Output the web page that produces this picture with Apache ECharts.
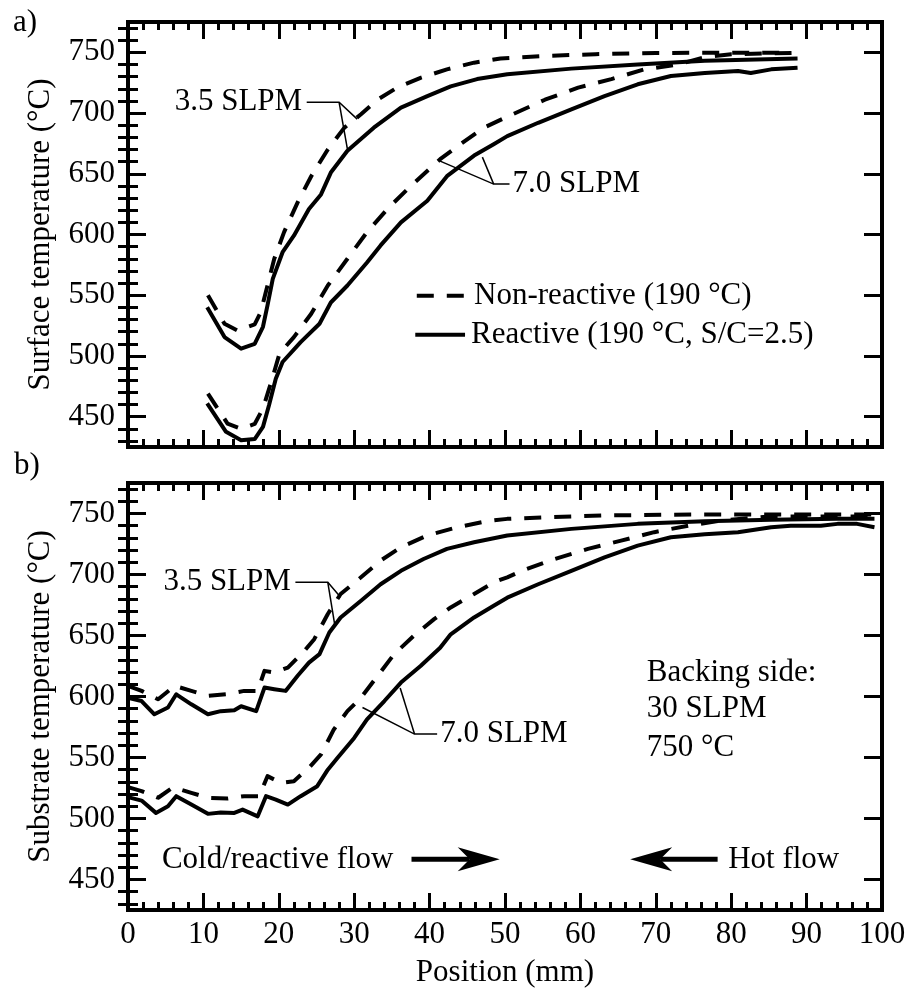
<!DOCTYPE html>
<html>
<head>
<meta charset="utf-8">
<script src="https://cdn.jsdelivr.net/npm/echarts@6/dist/echarts.min.js"></script>
<style>
  html, body { margin: 0; padding: 0; background: #fff; }
  #chart { width: 914px; height: 994px; }
</style>
</head>
<body>
<div id="chart"></div>
<script>
// ---- axis ranges and tick values ----
const positionRange = [0, 100];
const positionInterval = 10;
const tempRange = [425, 775];
const tempMajorTicks = [450, 500, 550, 600, 650, 700, 750];
const tempMinorTicks = [430, 440, 460, 470, 480, 490, 510, 520, 530, 540, 560, 570, 580, 590,
                        610, 620, 630, 640, 660, 670, 680, 690, 710, 720, 730, 740, 760, 770];

// ---- (a) surface temperature, [position mm, °C] ----
const surface35NonReactive = [[10.6,550],[12.8,526.5],[14.5,521],[16.8,526],[17.6,536],[18.5,558],[19.4,580],
  [20.7,602],[22.5,626.5],[24.3,648],[26.5,670],[28.7,688],[30.9,699],[33.1,711],[35.7,721],[38.8,729],
  [42.3,736],[45.9,741.5],[49.4,745],[55,747],[62,748.5],[70,749.5],[80,749.7],[88,749.7]];
const surface35Reactive = [[10.5,540],[12.8,515.5],[15.0,506],[16.8,510],[17.9,524],[18.5,541.6],[19.2,563.5],
  [20.5,585.4],[22.0,599],[24.0,621],[25.6,633],[26.9,651],[29.1,669],[32.6,688],[36.2,704.5],[39.7,714],
  [42.8,722],[46.3,728],[50.3,732],[58.8,736.6],[67.6,740],[76.5,743],[88.8,745]];
const surface70NonReactive = [[10.6,469],[13.2,444.3],[15,440],[16.8,444],[17.9,456.7],[19.0,478.6],[20.1,502],
  [22,515.5],[24.3,534.7],[26.5,558],[29.1,580],[31.7,602],[34.4,621],[37.5,640],[41.4,662],[44.1,674.4],
  [47.2,688],[50.3,697],[55.3,711],[59.7,721],[64.1,728],[68.5,736],[72.9,740],[76.5,746],[80,748.5],[88,749.5]];
const surface70Reactive = [[10.5,461],[13.0,437.5],[15.0,430.6],[16.8,431.5],[17.9,441.6],[18.7,459.4],[19.6,481.3],
  [20.5,495],[22.9,511.4],[25.4,526.5],[26.9,544],[29.1,558],[31.7,577],[33.5,591],[36.2,610],[39.7,627.8],
  [42.3,648],[45.9,665],[48.5,674.4],[50.3,681],[54.4,692],[58.8,703],[63.2,714],[67.6,723.7],[72,730.5],
  [76.5,733],[80.9,734.7],[82.6,733],[85.3,736],[88.8,737.4]];

// ---- (b) substrate temperature, [position mm, °C] ----
const substrate35NonReactive = [[0,608.7],[1.8,604.6],[4.0,597.7],[6.2,608.7],[8.4,604.6],[10.6,600.5],[13.2,602],
  [15.4,604.6],[17.2,604.6],[18.1,621],[19.4,619.6],[21.2,623.7],[23.4,637.4],[24.7,647],[26.5,667.6],[28.2,684],
  [30.9,697.7],[33.5,711.4],[36.2,722.3],[39.7,732],[43.7,738.8],[47.6,743.7],[50.3,745.6],[56,747],[63.2,748.4],
  [75,749.2],[100,749.2]];
const substrate35Reactive = [[0,599],[1.8,596.3],[3.5,585.4],[5.3,591],[6.4,601.8],[8.4,593.6],[10.6,585.4],[12.3,588],
  [14.1,588.7],[15,592],[17,588],[18.1,607.3],[19.4,606],[20.9,604.6],[22.5,617],[24,627.8],[25.4,634.7],[26.7,652.5],
  [28.2,664.8],[30.9,678.5],[33.5,692],[36.2,703],[39.2,712.7],[42.3,721],[45.9,726.4],[50.3,732],[58.8,737.4],
  [67.6,741.5],[76.5,743.7],[85.3,744.8],[94.1,745.6],[99,745.6]];
const substrate70NonReactive = [[0,525.7],[1.8,522.4],[4.0,517],[6.0,525.7],[8.4,521],[10.6,517],[13.2,516.4],
  [15.4,518.3],[17.4,518.3],[18.5,534.7],[20.3,529.2],[22,530.6],[24,541.6],[25.6,552.5],[27.3,573],[29.1,588],
  [30.9,599],[33.1,616.9],[35.3,634.7],[37.9,649.8],[40.6,663.4],[42.8,673],[45.9,684],[48.5,693.6],[50.3,697.7],
  [52.2,703],[56.6,712.7],[61,721],[65.4,727.8],[69.8,734.7],[74.3,740],[78.7,744.2],[85,747.5],[100,747.5]];
const substrate70Reactive = [[0,517.5],[1.8,514.7],[3.7,504.6],[5.3,510],[6.4,518.3],[8.4,511.4],[10.6,503.8],
  [12.3,505],[14.1,504.6],[15.2,507.3],[17.2,501.8],[18.3,518.3],[19.6,515.5],[21.2,511.4],[22.9,518.3],[25.1,526.5],
  [26.5,540],[27.8,549.8],[30.0,566],[31.7,581.3],[34,596.3],[36.2,611.4],[38.8,625],[41.4,640],[42.8,651],
  [45.9,664.8],[48.5,674.4],[50.3,681],[54.4,692],[58.8,703],[63.2,714],[67.6,723.7],[72,730.5],[76.5,733],
  [80.9,734.7],[85.3,738.8],[87.9,740],[91.9,740],[94.1,741.5],[96.7,741.5],[99,738.8]];

// ---- text ----
const panelTags = ['a)', 'b)'];
const yTitles = ['Surface temperature (°C)', 'Substrate temperature (°C)'];
const xTitle = 'Position (mm)';
const legendNames = ['Non-reactive (190 °C)', 'Reactive (190 °C, S/C=2.5)'];
const backingLines = ['Backing side:', '30 SLPM', '750 °C'];

// ---- styling ----
const FONT = '"Liberation Serif", "Times New Roman", serif';
const FS = 31;
const INK = '#000';
const DASH = [17, 13];
const CURVE_W = 4;

const chart = echarts.init(document.getElementById('chart'), null, { renderer: 'canvas' });

const grids = [
  { left: 128, top: 22, width: 754, height: 425 },
  { left: 128, top: 483, width: 754, height: 427 }
];

function makeXAxes(gridIndex, withLabels) {
  const base = {
    type: 'value', gridIndex, min: positionRange[0], max: positionRange[1], interval: positionInterval,
    axisLine: { show: true, onZero: false, lineStyle: { color: INK, width: 4, cap: 'square' } },
    axisTick: { show: true, inside: true, length: 17, lineStyle: { color: INK, width: 3 } },
    minorTick: { show: true, splitNumber: 5, length: 8, lineStyle: { color: INK, width: 3 } },
    splitLine: { show: false }, minorSplitLine: { show: false }
  };
  return [
    Object.assign({}, base, {
      position: 'bottom',
      axisLabel: { show: withLabels, color: INK, fontFamily: FONT, fontSize: FS, margin: 9 },
      name: withLabels ? xTitle : '', nameLocation: 'middle', nameGap: 47,
      nameTextStyle: { color: INK, fontFamily: FONT, fontSize: FS }
    }),
    Object.assign({}, base, { position: 'top', axisLabel: { show: false } })
  ];
}

function makeYAxes(gridIndex, title) {
  const base = {
    type: 'value', gridIndex, min: tempRange[0], max: tempRange[1],
    splitLine: { show: false }, minorSplitLine: { show: false }
  };
  const major = (pos, withLabels) => Object.assign({}, base, {
    position: pos,
    axisLine: { show: true, onZero: false, lineStyle: { color: INK, width: 4, cap: 'square' } },
    axisTick: { show: true, inside: true, length: 18, customValues: tempMajorTicks, lineStyle: { color: INK, width: 3 } },
    axisLabel: { show: withLabels, customValues: tempMajorTicks, color: INK, fontFamily: FONT, fontSize: FS, margin: 13 },
    name: withLabels ? title : '', nameLocation: 'middle', nameRotate: 90, nameGap: 72,
    nameTextStyle: { color: INK, fontFamily: FONT, fontSize: FS }
  });
  const minor = (pos) => Object.assign({}, base, {
    position: pos,
    axisLine: { show: false },
    axisTick: { show: true, inside: true, length: 10, customValues: tempMinorTicks, lineStyle: { color: INK, width: 3 } },
    axisLabel: { show: false }
  });
  return [major('left', true), minor('left'), major('right', false), minor('right')];
}

function curve(data, gridIndex, dashed) {
  return {
    type: 'line', data, xAxisIndex: gridIndex * 2, yAxisIndex: gridIndex * 4,
    symbol: 'none', smooth: false, silent: true, clip: true,
    lineStyle: { color: INK, width: CURVE_W, type: dashed ? DASH : 'solid', cap: 'butt', join: 'round' }
  };
}

const option = {
  backgroundColor: '#fff',
  animation: false,
  grid: grids,
  xAxis: [...makeXAxes(0, false), ...makeXAxes(1, true)],
  yAxis: [...makeYAxes(0, yTitles[0]), ...makeYAxes(1, yTitles[1])],
  series: [
    curve(surface35NonReactive, 0, true),
    curve(surface35Reactive, 0, false),
    curve(surface70NonReactive, 0, true),
    curve(surface70Reactive, 0, false),
    curve(substrate35NonReactive, 1, true),
    curve(substrate35Reactive, 1, false),
    curve(substrate70NonReactive, 1, true),
    curve(substrate70Reactive, 1, false)
  ]
};
chart.setOption(option);

// ---- annotations, anchored in data units of each panel ----
const toPx = (g, p) => chart.convertToPixel({ xAxisIndex: g * 2, yAxisIndex: g * 4 }, p);

function label(g, p, text, align) {
  const [x, y] = toPx(g, p);
  return { type: 'text', x, y, silent: true,
    style: { text, fill: INK, fontFamily: FONT, fontSize: FS, align: align || 'left', verticalAlign: 'middle' } };
}
function leader(g, pts) {
  return { type: 'polyline', silent: true, shape: { points: pts.map(p => toPx(g, p)) },
    style: { stroke: INK, lineWidth: 1.5, fill: null } };
}
function sample(g, from, to, dashed) {
  const a = toPx(g, from), b = toPx(g, to);
  return { type: 'line', silent: true, shape: { x1: a[0], y1: a[1], x2: b[0], y2: b[1] },
    style: { stroke: INK, lineWidth: CURVE_W, lineDash: dashed ? DASH : null } };
}
// flow arrow: shaft from "tail" to "tip", filled barbed head
function arrow(g, tail, tip) {
  const a = toPx(g, tail), b = toPx(g, tip);
  const dir = Math.sign(b[0] - a[0]);
  const headLen = 42, halfW = 12, notch = 12;
  const back = b[0] - dir * headLen;
  return [
    { type: 'line', silent: true, shape: { x1: a[0], y1: a[1], x2: b[0] - dir * (headLen - notch), y2: b[1] },
      style: { stroke: INK, lineWidth: 5 } },
    { type: 'polygon', silent: true,
      shape: { points: [[b[0], b[1]], [back, b[1] - halfW], [back + dir * notch, b[1]], [back, b[1] + halfW]] },
      style: { fill: INK } }
  ];
}

const graphics = [
  // panel tags
  { type: 'text', x: 13, y: 23, silent: true,
    style: { text: panelTags[0], fill: INK, fontFamily: FONT, fontSize: FS, verticalAlign: 'middle' } },
  { type: 'text', x: 14, y: 466, silent: true,
    style: { text: panelTags[1], fill: INK, fontFamily: FONT, fontSize: FS, verticalAlign: 'middle' } },

  // (a) flow-rate callouts
  label(0, [23.1, 708.9], '3.5 SLPM', 'right'),
  leader(0, [[23.7, 708.9], [28.0, 708.9], [30.4, 695]]),
  leader(0, [[28.0, 708.9], [29.1, 670.3]]),
  label(0, [51.0, 641.5], '7.0 SLPM', 'left'),
  leader(0, [[50.6, 641.5], [48.5, 641.5], [41.4, 660.4]]),
  leader(0, [[48.5, 641.5], [47.0, 663.7]]),

  // (a) legend
  sample(0, [38.3, 549.5], [44.6, 549.5], true),
  label(0, [45.9, 549.5], legendNames[0], 'left'),
  sample(0, [38.1, 517.5], [44.7, 517.5], false),
  label(0, [45.5, 517.5], legendNames[1], 'left'),

  // (b) flow-rate callouts
  label(1, [21.6, 693.6], '3.5 SLPM', 'right'),
  leader(1, [[22.2, 693.6], [26.5, 693.6], [28.2, 681.3]]),
  leader(1, [[26.5, 693.6], [27.4, 659.6]]),
  label(1, [41.4, 569.2], '7.0 SLPM', 'left'),
  leader(1, [[41.0, 569.2], [38.0, 569.2], [31.1, 591]]),
  leader(1, [[38.0, 569.2], [36.1, 607]]),

  // (b) backing-side conditions
  label(1, [68.8, 619.4], backingLines[0], 'left'),
  label(1, [68.8, 589.8], backingLines[1], 'left'),
  label(1, [68.8, 557.7], backingLines[2], 'left'),

  // (b) flow directions
  label(1, [4.5, 466.5], 'Cold/reactive flow', 'left'),
  ...arrow(1, [37.6, 466.5], [49.3, 466.5]),
  ...arrow(1, [78.2, 466.5], [66.6, 466.5]),
  label(1, [79.6, 466.5], 'Hot flow', 'left')
];

chart.setOption({ graphic: graphics });
</script>
</body>
</html>
